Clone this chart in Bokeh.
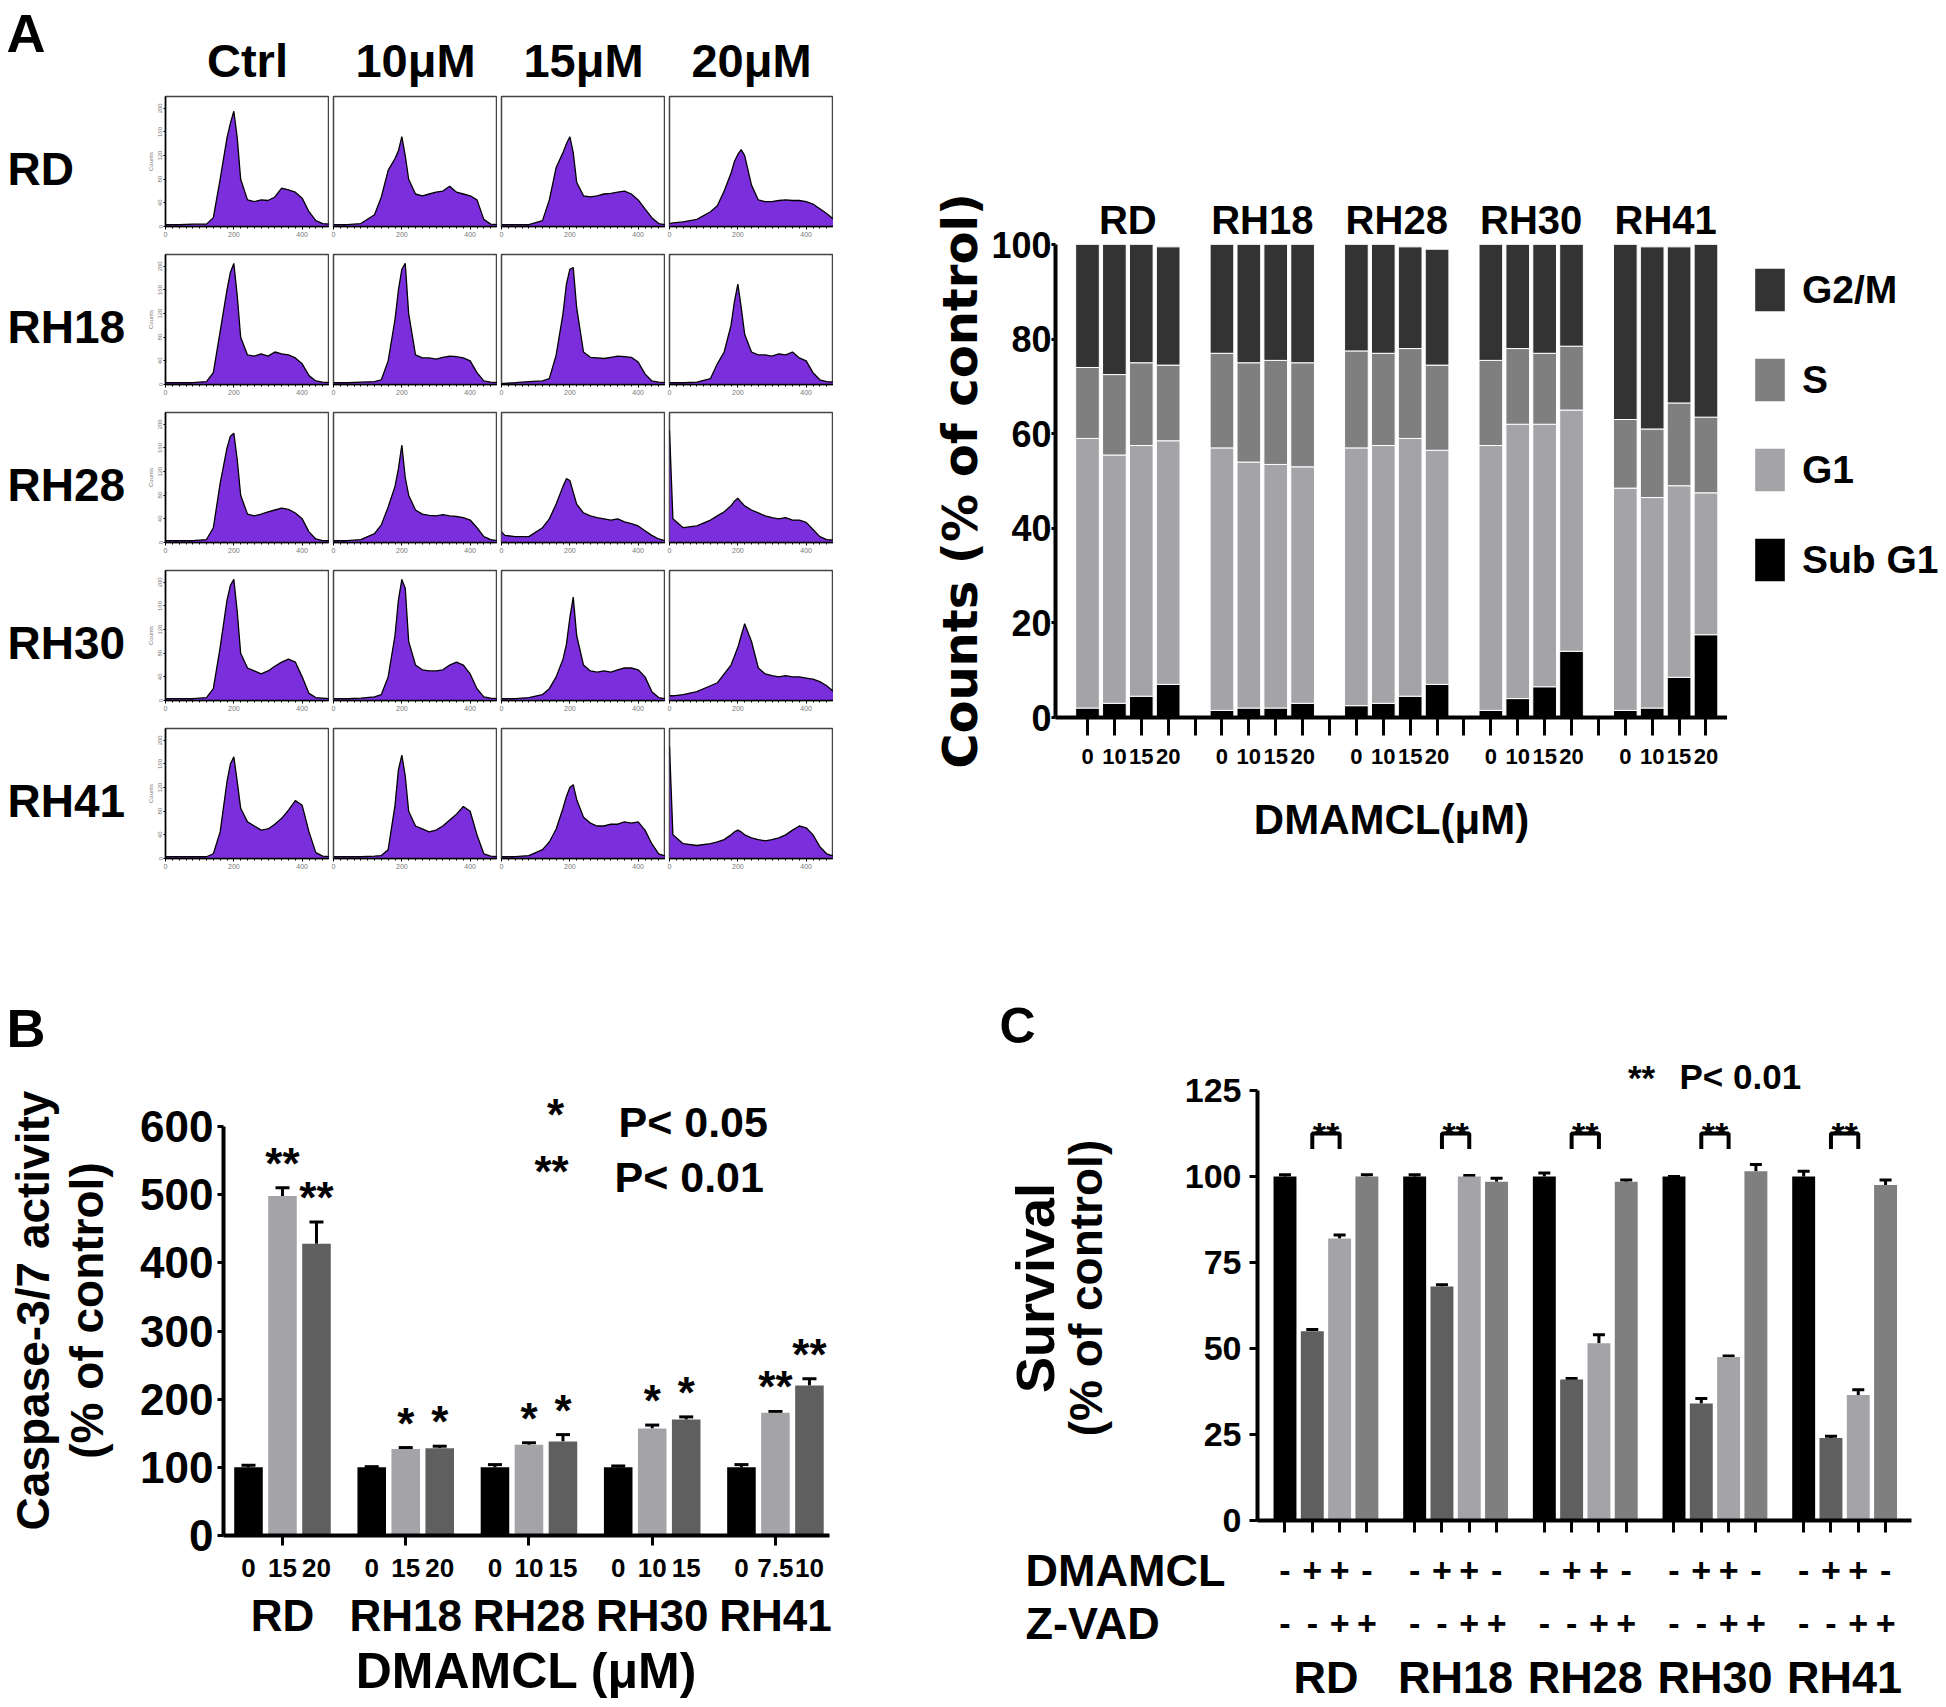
from bokeh.plotting import figure
from bokeh.models import (ColumnDataSource, FixedTicker, LinearAxis, Label, Legend, LegendItem,
                          Whisker, TeeHead, Range1d)
from bokeh.layouts import row, column
from bokeh.embed import file_html
from bokeh.resources import INLINE
from bokeh.core.properties import value

SANS = "Liberation Sans, Arial, sans-serif"
WIDE = "DejaVu Sans, Verdana, sans-serif"

# ------------------------------------------------------------------ data
CELL_LINES = ["RD", "RH18", "RH28", "RH30", "RH41"]

# Panel A: DNA histograms (counts vs. channel)
HIST_DOSES = ["Ctrl", "10μM", "15μM", "20μM"]
HIST_X = [0, 10, 40, 80, 120, 140, 160, 180, 190, 200, 210, 220, 240, 260, 280, 300, 320, 340,
          360, 380, 400, 420, 440, 460, 480]
HIST_RD = [
    [3, 3, 3, 4, 4, 15, 80, 150, 175, 195, 150, 80, 45, 42, 45, 44, 50, 65, 62, 58, 48, 25, 10, 5, 4],
    [3, 3, 3, 5, 20, 50, 95, 115, 128, 152, 120, 80, 55, 52, 55, 58, 60, 68, 58, 55, 52, 45, 12, 4, 3],
    [3, 3, 3, 3, 10, 45, 100, 125, 140, 152, 125, 75, 52, 50, 52, 55, 56, 58, 60, 55, 45, 30, 15, 5, 3],
    [5, 6, 8, 12, 25, 35, 60, 90, 110, 122, 130, 120, 70, 45, 42, 42, 44, 45, 44, 44, 42, 38, 30, 22, 12],
]
HIST_RH18 = [
    [3, 3, 3, 3, 5, 20, 90, 160, 190, 205, 150, 80, 50, 48, 52, 48, 55, 52, 50, 45, 35, 15, 6, 4, 3],
    [3, 3, 3, 4, 5, 8, 40, 110, 160, 195, 205, 120, 50, 45, 45, 43, 46, 48, 47, 45, 40, 20, 6, 4, 3],
    [2, 2, 3, 5, 6, 10, 50, 120, 170, 195, 198, 130, 55, 46, 45, 44, 46, 48, 47, 46, 38, 18, 6, 4, 3],
    [3, 3, 3, 4, 10, 35, 55, 100, 140, 170, 130, 85, 55, 50, 50, 48, 52, 50, 55, 45, 40, 20, 8, 5, 4],
]
HIST_RH28 = [
    [3, 3, 3, 3, 5, 25, 100, 160, 180, 185, 140, 80, 48, 45, 48, 52, 55, 58, 56, 50, 40, 18, 6, 3, 3],
    [3, 3, 3, 5, 15, 30, 60, 95, 125, 165, 110, 80, 55, 48, 46, 45, 47, 45, 44, 42, 38, 25, 10, 5, 3],
    [18, 12, 10, 10, 25, 40, 65, 95, 108, 105, 85, 65, 50, 45, 42, 40, 38, 40, 35, 32, 28, 20, 12, 6, 3],
    [190, 40, 25, 28, 38, 45, 52, 62, 70, 75, 68, 62, 55, 50, 45, 42, 40, 42, 38, 38, 34, 22, 10, 5, 4],
]
HIST_RH30 = [
    [3, 3, 3, 3, 5, 20, 90, 170, 195, 205, 150, 80, 55, 50, 45, 50, 58, 65, 70, 65, 40, 12, 5, 4, 3],
    [3, 3, 3, 4, 6, 10, 40, 110, 170, 205, 190, 100, 60, 52, 50, 50, 52, 60, 65, 60, 45, 20, 6, 4, 3],
    [3, 3, 3, 5, 10, 20, 40, 70, 95, 140, 175, 110, 60, 50, 48, 50, 48, 52, 55, 55, 52, 40, 15, 5, 3],
    [8, 8, 10, 15, 25, 30, 45, 60, 75, 90, 110, 130, 100, 55, 45, 42, 40, 42, 40, 40, 38, 36, 32, 25, 15],
]
HIST_RH41 = [
    [3, 3, 3, 3, 3, 8, 45, 130, 160, 172, 130, 85, 62, 55, 48, 50, 58, 68, 82, 98, 90, 45, 10, 4, 3],
    [3, 3, 3, 3, 4, 5, 15, 90, 150, 175, 140, 80, 55, 50, 45, 48, 55, 65, 75, 88, 80, 40, 8, 4, 3],
    [3, 3, 3, 5, 15, 28, 50, 85, 105, 120, 125, 100, 70, 60, 55, 55, 58, 58, 62, 60, 62, 48, 25, 8, 4],
    [190, 40, 25, 22, 25, 28, 32, 40, 45, 48, 45, 40, 35, 32, 30, 32, 35, 40, 48, 55, 52, 40, 20, 8, 4],
]
HISTS = [HIST_RD, HIST_RH18, HIST_RH28, HIST_RH30, HIST_RH41]

# Panel A: cell-cycle phase distribution (%), 4 doses per cell line
PHASE_DOSES = ["0", "10", "15", "20"]
SUBG1 = [2, 3, 4.5, 7, 1.5, 2, 2, 3, 2.5, 3, 4.5, 7, 1.5, 4, 6.5, 14, 1.5, 2, 8.5, 17.5]
G1 = [57, 52.5, 53, 51.5, 55.5, 52, 51.5, 50, 54.5, 54.5, 54.5, 49.5, 56, 58, 55.5, 51, 47, 44.5, 40.5, 30]
S_PHASE = [15, 17, 17.5, 16, 20, 21, 22, 22, 20.5, 19.5, 19, 18, 18, 16, 15, 13.5, 14.5, 14.5, 17.5, 16]
G2M = [26, 27.5, 25, 25, 23, 25, 24.5, 25, 22.5, 23, 21.5, 24.5, 24.5, 22, 23, 21.5, 37, 38.5, 33, 36.5]

# Panel B: caspase-3/7 activity (% of control)
CASP_DOSES = [["0", "15", "20"], ["0", "15", "20"], ["0", "10", "15"], ["0", "10", "15"], ["0", "7.5", "10"]]
CASP_MEAN = [[100, 498, 428], [100, 127, 128], [100, 133, 138], [100, 157, 170], [100, 180, 220]]
CASP_ERR = [[3, 12, 32], [1, 2, 3], [4, 3, 10], [2, 5, 4], [4, 2, 10]]
CASP_SIG = [["", "**", "**"], ["", "*", "*"], ["", "*", "*"], ["", "*", "*"], ["", "**", "**"]]

# Panel C: survival (% of control)
SURV_MEAN = [[100, 55, 82, 100], [100, 68, 100, 98.5], [100, 41, 51.5, 98.5],
             [100, 34, 47.5, 101.5], [100, 24, 36.5, 97.5]]
SURV_ERR = [[0.5, 0.5, 1, 0.5], [0.5, 0.5, 0.3, 1], [1, 0.3, 2.5, 0.5], [0, 1.5, 0.3, 2], [1.5, 0.5, 1.5, 1.5]]
DMAMCL_SIGN = ["-", "+", "+", "-"]
ZVAD_SIGN = ["-", "-", "+", "+"]

# ------------------------------------------------------------------ styles
PURPLE = "#7b2fdc"
C_G2M, C_S, C_G1, C_SUB = "#333333", "#7f7f7f", "#a4a4a8", "#000000"
C_BLACK, C_DARK, C_LIGHT, C_MID = "#000000", "#5f5f5f", "#a4a4a8", "#7f7f7f"


def mk_fig(width, height, xr, yr, left, right, top, bottom):
    p = figure(width=width, height=height, x_range=xr, y_range=yr, output_backend="svg",
               toolbar_location=None, min_border_left=left, min_border_right=right,
               min_border_top=top, min_border_bottom=bottom, frame_align=False)
    p.xgrid.visible = False
    p.ygrid.visible = False
    p.outline_line_color = None
    p.background_fill_color = "white"
    p.border_fill_color = "white"
    return p


def holder(width, height, xr=None, yr=None):
    p = mk_fig(width, height, xr if xr is not None else Range1d(0, width),
               yr if yr is not None else Range1d(0, height), 0, 0, 0, 0)
    p.axis.visible = False
    return p


def add_text(p, x, y, text, size, font=SANS, align="left", baseline="middle", style="bold"):
    p.add_layout(Label(x=x, y=y, x_units="screen", y_units="screen", text=text, text_font=font,
                       text_font_size=f"{size}px", text_font_style=style, text_align=align,
                       text_baseline=baseline, text_color="black"))


def style_axis(ax, size, tick_out, standoff, line_w=4, tick_w=3, font=SANS):
    ax.major_label_text_font = font
    ax.major_label_text_font_size = f"{size}px"
    ax.major_label_text_font_style = "bold"
    ax.major_label_text_color = "black"
    ax.major_tick_out = tick_out
    ax.major_tick_in = 0
    ax.minor_tick_out = 0
    ax.minor_tick_in = 0
    ax.major_label_standoff = standoff
    ax.axis_line_width = line_w
    ax.axis_line_color = "black"
    ax.major_tick_line_width = tick_w
    ax.major_tick_line_color = "black"


def axis_title(ax, text, size, standoff, font=SANS):
    ax.axis_label = text
    ax.axis_label_text_font = font
    ax.axis_label_text_font_size = f"{size}px"
    ax.axis_label_text_font_style = "bold"
    ax.axis_label_text_color = "black"
    ax.axis_label_standoff = standoff


def bare_axis(ax, size=10, standoff=0):
    ax.axis_line_color = None
    ax.major_tick_line_color = None
    ax.minor_tick_line_color = None
    ax.major_tick_out = 0
    ax.major_tick_in = 0
    ax.minor_tick_out = 0
    ax.minor_tick_in = 0
    ax.major_label_text_font = SANS
    ax.major_label_text_font_size = f"{size}px"
    ax.major_label_text_font_style = "bold"
    ax.major_label_text_color = "black"
    ax.major_label_standoff = standoff


# ------------------------------------------------------------------ panel A histograms
FRAME_W, FRAME_H = 164, 130
HEAD_H = 92
a_head = holder(833, HEAD_H)
add_text(a_head, 6, HEAD_H - 32, "A", 54)
for c, dose in enumerate(HIST_DOSES):
    add_text(a_head, 165 + 168 * c + FRAME_W / 2, HEAD_H - 60, dose, 47, align="center")

hist_rows = [a_head]
for r, line in enumerate(CELL_LINES):
    top = 4
    bottom = 137 if r == 4 else 24
    h = top + FRAME_H + bottom
    lab = holder(140, h)
    add_text(lab, 7, h - (top + FRAME_H / 2 + 7), line, 46)
    figs = [lab]
    for c in range(len(HIST_DOSES)):
        left = 25 if c == 0 else 4
        p = mk_fig(left + FRAME_W, h, Range1d(0, 480), Range1d(0, 220), left, 0, top, bottom)
        ys = HISTS[r][c]
        p.varea(x=HIST_X, y1=[0] * len(HIST_X), y2=ys, fill_color=PURPLE)
        p.line(x=HIST_X, y=ys, line_color="black", line_width=1.3)
        p.outline_line_color = "#444444"
        p.outline_line_width = 1.5
        xa = p.xaxis[0]
        xa.ticker = FixedTicker(ticks=[0, 200, 400], minor_ticks=list(range(0, 481, 20)))
        xa.major_label_text_font_size = "7px"
        xa.major_label_text_color = "#777777"
        xa.major_tick_out = 3
        xa.major_tick_in = 0
        xa.minor_tick_out = 2
        xa.minor_tick_in = 0
        xa.major_label_standoff = 2
        xa.axis_line_width = 1.5
        if c == 0:
            ya = p.yaxis[0]
            ya.ticker = FixedTicker(ticks=[0, 40, 80, 120, 160, 200])
            ya.major_label_text_font_size = "6px"
            ya.major_label_text_color = "#777777"
            ya.major_label_orientation = "vertical"
            ya.axis_label = "Counts"
            ya.axis_label_text_font_size = "6px"
            ya.axis_label_text_font_style = "normal"
            ya.axis_label_text_color = "#777777"
            ya.axis_label_standoff = 2
            ya.major_tick_out = 2
            ya.major_tick_in = 0
            ya.minor_tick_out = 0
            ya.minor_tick_in = 0
            ya.major_label_standoff = 1
            ya.axis_line_width = 1.5
        else:
            p.yaxis.visible = False
        figs.append(p)
    hist_rows.append(row(*figs))
hist_block = column(*hist_rows)

# ------------------------------------------------------------------ panel A stacked bars
A_X = [g * 5 + i for g in range(len(CELL_LINES)) for i in range(len(PHASE_DOSES))]
src_a = ColumnDataSource(dict(x=A_X, subg1=SUBG1, g1=G1, s=S_PHASE, g2m=G2M))
STACK = ["subg1", "g1", "s", "g2m"]
STACK_COLORS = [C_SUB, C_G1, C_S, C_G2M]
pa = mk_fig(894, 995, Range1d(-1.19, 23.8), Range1d(0, 100), 222, 0, 244, 278)
pa.vbar_stack(STACK, x="x", width=0.88, source=src_a, fill_color=STACK_COLORS,
              line_color="white", line_width=1)
ya = pa.yaxis[0]
ya.ticker = FixedTicker(ticks=[0, 20, 40, 60, 80, 100])
style_axis(ya, 36, 4, 0)
axis_title(ya, "Counts (% of control)", 48, 0, font=WIDE)
xa = pa.xaxis[0]
xa.ticker = FixedTicker(ticks=list(range(24)))
xa.major_label_overrides = {t: (PHASE_DOSES[A_X.index(t) % 4] if t in A_X else "") for t in range(24)}
style_axis(xa, 22, 18, 13)
axis_title(xa, "DMAMCL(μM)", 42, 29)
grp_a = [g * 5 + 1.5 for g in range(len(CELL_LINES))]
top_ax = LinearAxis(ticker=FixedTicker(ticks=grp_a),
                    major_label_overrides={t: n for t, n in zip(grp_a, CELL_LINES)})
bare_axis(top_ax, 40, 3)
pa.add_layout(top_ax, "above")

# legend panel to the right of the stacked bars (same data, drawn outside its visible range)
lf = holder(216, 995, xr=Range1d(-400, -184))
rs_l = lf.vbar_stack(STACK, x="x", width=0.88, source=src_a, fill_color=STACK_COLORS,
                     line_color=None)
legend = Legend(items=[LegendItem(label=n, renderers=[rs_l[k]])
                       for n, k in zip(["G2/M", "S", "G1", "Sub G1"], [3, 2, 1, 0])],
                location=(24, 409), orientation="vertical", glyph_width=37, glyph_height=53,
                label_standoff=14, spacing=37, padding=0, margin=0, border_line_color=None,
                background_fill_alpha=0, label_text_font=SANS, label_text_font_size="39px",
                label_text_font_style="bold", label_text_color="black")
lf.add_layout(legend)

# ------------------------------------------------------------------ panel B
B_X = [g * 3.625 + i for g in range(len(CELL_LINES)) for i in range(3)]
b_mean = sum(CASP_MEAN, [])
b_err = sum(CASP_ERR, [])
b_col = [C_BLACK, C_LIGHT, C_DARK] * len(CELL_LINES)
B_HEAD = 90
b_head = holder(990, B_HEAD)
add_text(b_head, 6, B_HEAD - 32, "B", 54)
B_PX = 409 / 600  # px per unit
B_FRAME = 1535 - 995 - B_HEAD
pb = mk_fig(990, 710 - B_HEAD, Range1d(-0.735, 17.09), Range1d(0, B_FRAME / B_PX), 223, 161, 0, 170)
src_b = ColumnDataSource(dict(x=B_X, top=b_mean, color=b_col,
                              upper=[m + e for m, e in zip(b_mean, b_err)],
                              sig=sum(CASP_SIG, [])))
pb.vbar(x="x", top="top", width=0.84, fill_color="color", line_color=None, source=src_b)
pb.add_layout(Whisker(base="x", lower="top", upper="upper", source=src_b, dimension="height",
                      line_width=3, line_color="black", lower_head=None,
                      upper_head=TeeHead(size=14, line_width=3, line_color="black")))
pb.text(x="x", y="upper", text="sig", source=src_b, text_align="center", text_baseline="bottom",
        text_font=value(SANS), text_font_size="44px", text_font_style="bold", text_color="black")
ya = pb.yaxis[0]
ya.ticker = FixedTicker(ticks=[0, 100, 200, 300, 400, 500, 600])
ya.bounds = (0, 600)
style_axis(ya, 44, 6, 4)
axis_title(ya, "(% of control)", 46, 24)
outer_b = LinearAxis(ticker=FixedTicker(ticks=[]))
bare_axis(outer_b)
axis_title(outer_b, "Caspase-3/7 activity", 46, 0)
pb.add_layout(outer_b, "left")
grp_b = [g * 3.625 + 1 for g in range(len(CELL_LINES))]
xa = pb.xaxis[0]
xa.ticker = FixedTicker(ticks=grp_b)
style_axis(xa, 1, 10, 0)
xa.major_label_text_color = None
dose_ax = LinearAxis(ticker=FixedTicker(ticks=B_X),
                     major_label_overrides={t: d for t, d in zip(B_X, sum(CASP_DOSES, []))})
bare_axis(dose_ax, 26, 13)
pb.add_layout(dose_ax, "below")
name_ax = LinearAxis(ticker=FixedTicker(ticks=grp_b),
                     major_label_overrides={t: n for t, n in zip(grp_b, CELL_LINES)})
bare_axis(name_ax, 44, 11)
axis_title(name_ax, "DMAMCL (μM)", 50, 0)
pb.add_layout(name_ax, "below")
add_text(pb, 332, 421, "*", 44, align="center")
add_text(pb, 395, 414, "P< 0.05", 43)
add_text(pb, 328, 364, "**", 44, align="center")
add_text(pb, 391, 359, "P< 0.01", 43)

# ------------------------------------------------------------------ panel C
C_X = [g * 4.75 + i for g in range(len(CELL_LINES)) for i in range(4)]
C_XMIN, C_XMAX = -1.007, 22.95
C_LEFT, C_FRAME, C_RIGHT = 267, 654, 33
C_PX = C_FRAME / (C_XMAX - C_XMIN)
C_YPX = 430 / 125
C_HEAD = 60
C_BOTTOM = 24
C_STRIP = 710 - C_HEAD - (1520 - 995 - C_HEAD) - C_BOTTOM
C_FRAME_H = 1520 - 995 - C_HEAD
c_mean = sum(SURV_MEAN, [])
c_err = sum(SURV_ERR, [])
c_col = [C_BLACK, C_DARK, C_LIGHT, C_MID] * len(CELL_LINES)
c_head = holder(954, C_HEAD)
add_text(c_head, 9, C_HEAD - 30, "C", 50)
pc = mk_fig(954, C_FRAME_H + C_BOTTOM, Range1d(C_XMIN, C_XMAX), Range1d(0, C_FRAME_H / C_YPX),
            C_LEFT, C_RIGHT, 0, C_BOTTOM)
src_c = ColumnDataSource(dict(x=C_X, top=c_mean, color=c_col,
                              upper=[m + e for m, e in zip(c_mean, c_err)]))
pc.vbar(x="x", top="top", width=0.84, fill_color="color", line_color=None, source=src_c)
pc.add_layout(Whisker(base="x", lower="top", upper="upper", source=src_c, dimension="height",
                      line_width=3, line_color="black", lower_head=None,
                      upper_head=TeeHead(size=12, line_width=3, line_color="black")))
BR_LOW, BR_HIGH = 108, 112.5
br_x1 = [g * 4.75 + 1 for g in range(len(CELL_LINES))]
br_x2 = [g * 4.75 + 2 for g in range(len(CELL_LINES))]
pc.multi_line(xs=[[a, a, b, b] for a, b in zip(br_x1, br_x2)],
              ys=[[BR_LOW, BR_HIGH, BR_HIGH, BR_LOW]] * len(CELL_LINES),
              line_color="black", line_width=4)
pc.text(x=[(a + b) / 2 for a, b in zip(br_x1, br_x2)], y=[BR_HIGH] * len(CELL_LINES),
        text=["**"] * len(CELL_LINES), text_align="center", text_baseline="middle",
        text_font=value(SANS), text_font_size="34px", text_font_style="bold", text_color="black")
ya = pc.yaxis[0]
ya.ticker = FixedTicker(ticks=[0, 25, 50, 75, 100, 125])
ya.bounds = (0, 125)
style_axis(ya, 34, 8, 8)
axis_title(ya, "(% of control)", 46, 70)
outer_c = LinearAxis(ticker=FixedTicker(ticks=[]))
bare_axis(outer_c)
axis_title(outer_c, "Survival", 54, -8)
pc.add_layout(outer_c, "left")
xa = pc.xaxis[0]
xa.ticker = FixedTicker(ticks=C_X)
style_axis(xa, 1, 12, 0)
xa.major_label_text_color = None
add_text(pc, 384, 443, "**", 35, align="center")
add_text(pc, 422, 444, "P< 0.01", 35)

# treatment table below panel C, on the same x scale as the bars
c_strip = holder(954, C_STRIP, xr=Range1d(C_XMIN - C_LEFT / C_PX, C_XMAX + C_RIGHT / C_PX),
                 yr=Range1d(0, C_STRIP))
ROW_DM, ROW_ZV, ROW_NAME = 135, 82, 28
c_strip.text(x=C_X, y=[ROW_DM] * len(C_X), text=DMAMCL_SIGN * len(CELL_LINES),
             text_align="center", text_baseline="middle", text_font=value(SANS),
             text_font_size="34px", text_font_style="bold", text_color="black")
c_strip.text(x=C_X, y=[ROW_ZV] * len(C_X), text=ZVAD_SIGN * len(CELL_LINES),
             text_align="center", text_baseline="middle", text_font=value(SANS),
             text_font_size="34px", text_font_style="bold", text_color="black")
grp_c = [g * 4.75 + 1.5 for g in range(len(CELL_LINES))]
c_strip.text(x=grp_c, y=[ROW_NAME] * len(grp_c), text=CELL_LINES, text_align="center",
             text_baseline="middle", text_font=value(SANS), text_font_size="45px",
             text_font_style="bold", text_color="black")
add_text(c_strip, 35, ROW_DM, "DMAMCL", 45)
add_text(c_strip, 35, ROW_ZV, "Z-VAD", 45)

layout = column(row(hist_block, pa, lf),
                row(column(b_head, pb), column(c_head, pc, c_strip)))
open("out.html", "w").write(file_html(layout, INLINE))
